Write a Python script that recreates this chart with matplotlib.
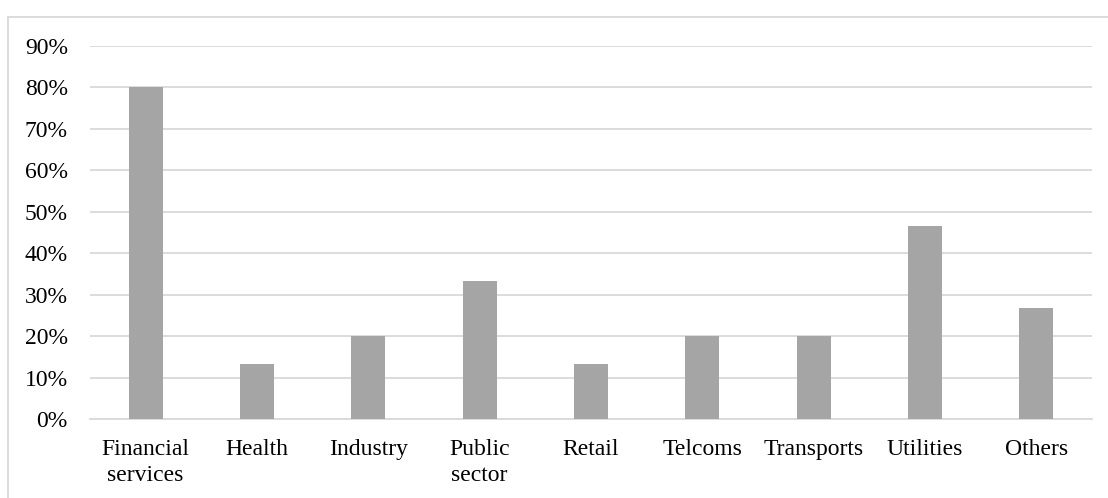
import matplotlib
matplotlib.use("Agg")
import matplotlib.pyplot as plt
from matplotlib.lines import Line2D

categories = ["Financial\nservices", "Health", "Industry", "Public\nsector", "Retail",
              "Telcoms", "Transports", "Utilities", "Others"]
values = [0.80, 0.1333, 0.20, 0.3333, 0.1333, 0.20, 0.20, 0.4667, 0.2667]
yticks = [0, 0.1, 0.2, 0.3, 0.4, 0.5, 0.6, 0.7, 0.8, 0.9]
ytick_labels = ["0%", "10%", "20%", "30%", "40%", "50%", "60%", "70%", "80%", "90%"]

plt.rcParams['font.family'] = ['Liberation Serif', 'DejaVu Serif']

W, H = 1108, 498
fig = plt.figure(figsize=(W / 100, H / 100), dpi=100)
ax = fig.add_axes([90 / W, 1 - 419 / H, (1092 - 90) / W, (419 - 46) / H])

x = list(range(len(categories)))
ax.bar(x, values, width=0.305, color="#A5A5A5", zorder=3)
ax.set_xlim(-0.5, len(categories) - 0.5)
ax.set_ylim(0, 0.9)
ax.set_yticks(yticks)
ax.set_yticklabels(ytick_labels)
ax.set_xticks(x)
ax.set_xticklabels(categories, linespacing=1.32)
ax.grid(axis="y", color="#D9D9D9", linewidth=1.3, zorder=0)
for s in ["top", "right", "left"]:
    ax.spines[s].set_visible(False)
ax.spines["bottom"].set_color("#D9D9D9")
ax.spines["bottom"].set_linewidth(1.3)
ax.tick_params(axis="both", length=0, labelsize=17, colors="black")
ax.tick_params(axis="y", pad=16)
ax.tick_params(axis="x", pad=14.5)

# chart border (Excel chart area)
fig.add_artist(Line2D([8 / W, 1], [1 - 17 / H, 1 - 17 / H], transform=fig.transFigure,
                      color="#D9D9D9", linewidth=1.3))
fig.add_artist(Line2D([8 / W, 8 / W], [0, 1 - 17 / H], transform=fig.transFigure,
                      color="#D9D9D9", linewidth=1.3))

fig.savefig("out.png", dpi=100, facecolor="white")
